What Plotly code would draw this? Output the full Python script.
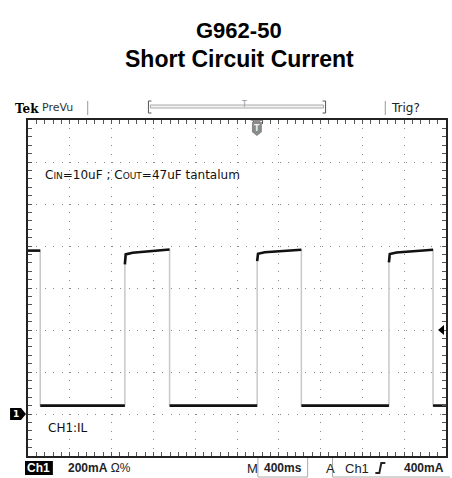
import plotly.graph_objects as go

# ---- data (read from the scope screen) ----
# time in ms (400 ms/div, 10 div), current in mA (200 mA/div)
t_ms = [0, 117, 117, 927, 927, 935, 1000, 1200, 1355, 1355,
        2193, 2193, 2201, 2266, 2466, 2616, 2616,
        3454, 3454, 3462, 3527, 3727, 3876, 3876, 4000]
i_ma = [778, 778, 40, 40, 712, 760, 768, 776, 783, 40,
        40, 728, 763, 770, 777, 782, 40,
        40, 722, 762, 769, 776, 782, 40, 40]
trigger_ms = 2193
trigger_level_ma = 400
x_div_ms = 400
y_div_ma = 200

W, H = 452, 478
L, R, T, B = 28, 4, 120, 22
PW, PH = W - L - R, H - T - B

def xp(px):
    return (px - L) / PW

def yp(py):
    return (H - B - py) / PH

fig = go.Figure()

# black flat segments: break where time does not advance (edges)
bx, by = [t_ms[0]], [i_ma[0]]
for k in range(1, len(t_ms)):
    if t_ms[k] == t_ms[k - 1]:
        bx.append(None); by.append(None)
    bx.append(t_ms[k]); by.append(i_ma[k])

fig.add_trace(go.Scatter(x=t_ms, y=i_ma, mode="lines",
                         line=dict(color="#c8c8c8", width=1.5),
                         hoverinfo="skip", showlegend=False))
fig.add_trace(go.Scatter(x=bx, y=by, mode="lines",
                         line=dict(color="#111111", width=2.6),
                         connectgaps=False, hoverinfo="skip", showlegend=False))

axis_common = dict(showgrid=True, gridcolor="#8a8a8a", gridwidth=1,
                   griddash="1px,7.4px", zeroline=False, showticklabels=False,
                   showline=True, linecolor="#222", linewidth=2, mirror="ticks",
                   ticks="inside", ticklen=4, tickcolor="#555", tickwidth=1)

fig.update_xaxes(range=[0, 4000], dtick=x_div_ms, tick0=0,
                 minor=dict(dtick=x_div_ms / 5, ticks="inside", ticklen=4,
                            tickcolor="#555", showgrid=False),
                 **axis_common)
fig.update_yaxes(range=[-200, 1400], dtick=y_div_ma, tick0=-200,
                 minor=dict(dtick=y_div_ma / 5, ticks="inside", ticklen=4,
                            tickcolor="#555", showgrid=False),
                 **axis_common)

shapes = []
ann = []

def text(px, py, s, size, color="#222", family="Liberation Sans, Arial", anchor="left"):
    ann.append(dict(x=xp(px), y=yp(py), xref="paper", yref="paper",
                    xanchor=anchor, yanchor="middle", text=s, showarrow=False,
                    font=dict(family=family, size=size, color=color)))

def line(x0, y0, x1, y1, color="#555", width=1):
    shapes.append(dict(type="line", xref="paper", yref="paper",
                       x0=xp(x0), x1=xp(x1), y0=yp(y0), y1=yp(y1),
                       line=dict(color=color, width=width)))

def poly(pts, fill=None, color=None, width=0, close=True):
    p = "M " + " L ".join(f"{xp(a)},{yp(b)}" for a, b in pts) + (" Z" if close else "")
    d = dict(type="path", xref="paper", yref="paper", path=p,
             line=dict(width=width, color=color or "rgba(0,0,0,0)"))
    if fill:
        d["fillcolor"] = fill
    shapes.append(d)

# titles
text(240, 30, "<b>G962-50</b>", 22, "#000", anchor="center")
text(241, 59, "<b>Short Circuit Current</b>", 23, "#000", anchor="center")

# top status bar
text(13, 109, "<b>Tek</b>", 12, "#000", family="DejaVu Serif")
text(40, 108, "PreVu", 11, "#333", family="DejaVu Sans")
text(391, 108, "Trig?", 12, "#222", family="DejaVu Sans")
line(88, 101, 88, 115, "#999")
line(387, 101, 387, 115, "#999")
line(149, 101, 149, 113); line(149, 101, 152, 101); line(149, 113, 152, 113)
line(327, 101, 327, 113); line(324, 101, 327, 101); line(324, 113, 327, 113)
shapes.append(dict(type="rect", xref="paper", yref="paper", x0=xp(151), x1=xp(325),
                   y0=yp(108), y1=yp(105), line=dict(color="#aaa", width=1),
                   fillcolor="#f2f2f2"))
text(245, 105, "T", 8, "#999", family="DejaVu Sans", anchor="center")

# trigger position marker under top edge
poly([(253, 122), (263, 122), (263, 132), (258, 136), (253, 132)], fill="#8a8a8a")
poly([(251, 120), (265, 120), (258, 123)], fill="#8a8a8a")
text(258, 128, "<b>T</b>", 8, "#eee", family="DejaVu Sans", anchor="center")

# ground marker (channel 1) on left
poly([(10, 408), (21, 408), (26, 414), (21, 420), (10, 420)], fill="#000")
text(16, 414, "<b>1</b>", 9, "#fff", family="DejaVu Sans", anchor="center")

# trigger level arrow on right
poly([(440, 330), (446, 325), (446, 335)], fill="#000")

# in-plot labels
text(43, 175, "C<span style='font-size:9px'>IN</span>=10uF ; "
              "C<span style='font-size:9px'>OUT</span>=47uF tantalum", 12, "#111",
     family="DejaVu Sans")
text(46, 428, "CH1:IL", 12, "#111", family="DejaVu Sans")

# bottom status bar
shapes.append(dict(type="rect", xref="paper", yref="paper", x0=xp(25), x1=xp(53),
                   y0=yp(461), y1=yp(475), fillcolor="#000", line=dict(width=0)))
text(39, 468, "<b>Ch1</b>", 12, "#fff", anchor="center")
text(66, 468, "<b>200mA</b> Ω%", 12, "#222")
text(246, 468, "M", 13, "#222")
poly([(259, 458), (259, 477), (309, 477), (309, 458)], color="#aaa", width=1, close=False)
text(284, 468, f"<b>{x_div_ms}ms</b>", 12, "#222", anchor="center")
text(325, 468, "A", 13, "#222")
poly([(334, 458), (334, 477), (452, 477)], color="#aaa", width=1, close=False)
text(345, 468, "Ch1", 13, "#222")
poly([(377, 473), (381, 473), (383, 463), (387, 463)], color="#222", width=2, close=False)
text(448, 468, f"<b>{trigger_level_ma}mA</b>", 12, "#222", anchor="right")

fig.update_layout(width=W, height=H, margin=dict(l=L, r=R, t=T, b=B),
                  paper_bgcolor="white", plot_bgcolor="white",
                  shapes=shapes, annotations=ann, showlegend=False)

fig.write_html("out.html", config={"displayModeBar": False},
               post_script="document.body.style.margin='0';document.body.style.overflow='hidden';")
